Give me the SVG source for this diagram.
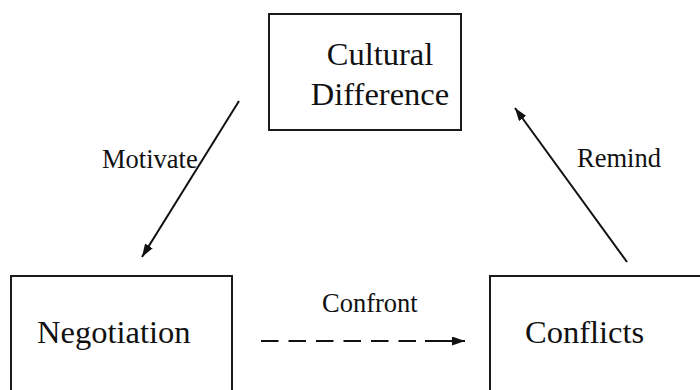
<svg xmlns="http://www.w3.org/2000/svg" width="700" height="390" viewBox="0 0 700 390">
  <defs>
    <style>
      .box { fill: #fff; stroke: #1a1a1a; stroke-width: 2; }
      .node-text { font-size: 32.5px; fill: #111; }
      .label { font-size: 26.5px; fill: #111; }
      .conn { stroke: #111; stroke-width: 2; fill: none; }
    </style>
    <marker id="arrow" viewBox="0 0 13 9" refX="13" refY="4.5" markerWidth="13" markerHeight="9" markerUnits="userSpaceOnUse" orient="auto">
      <path d="M0,0 L13,4.5 L0,9 Z" fill="#111"/>
    </marker>
  </defs>
  <rect width="700" height="390" fill="#fff"/>

  <g font-family="'Liberation Serif', 'DejaVu Serif', serif">
  <g id="node-cultural-difference">
    <rect class="box" x="269" y="14" width="192" height="116"/>
    <text class="node-text" x="380" y="65" text-anchor="middle">Cultural</text>
    <text class="node-text" x="380" y="105" text-anchor="middle">Difference</text>
  </g>

  <g id="node-negotiation">
    <rect class="box" x="11" y="276" width="221" height="130"/>
    <text class="node-text" x="37" y="343">Negotiation</text>
  </g>

  <g id="node-conflicts">
    <rect class="box" x="490" y="276" width="230" height="130"/>
    <text class="node-text" x="525" y="343">Conflicts</text>
  </g>

  <g id="connectors">
    <line class="conn" x1="239" y1="101" x2="142" y2="257" marker-end="url(#arrow)"/>
    <text class="label" x="102" y="168">Motivate</text>
    <line class="conn" x1="627" y1="262" x2="515" y2="108" marker-end="url(#arrow)"/>
    <text class="label" x="577" y="167">Remind</text>
    <line class="conn" x1="261" y1="341" x2="416" y2="341" stroke-dasharray="17.5 10"/>
    <line class="conn" x1="425" y1="341" x2="465" y2="341" marker-end="url(#arrow)"/>
    <text class="label" x="322" y="312">Confront</text>
  </g>
  </g>
</svg>
